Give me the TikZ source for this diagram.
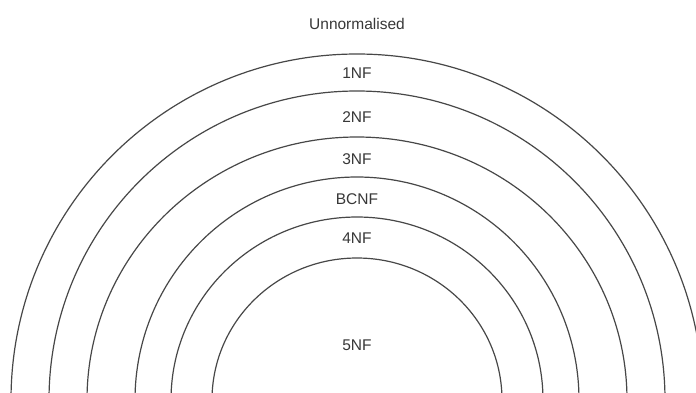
\documentclass[tikz,border=0pt]{standalone}
\usepackage{fontspec}
\setmainfont{Liberation Sans}
\begin{document}
\begin{tikzpicture}[x=1pt,y=-1pt,
  ring/.style={draw=black!72,line width=1.2pt},
  lbl/.style={inner sep=0pt,text=black!78,font=\fontsize{15.5}{17}\selectfont}]
\useasboundingbox (0,0) rectangle (696,392);
\clip (0,0) rectangle (696,392);
\fill[white] (0,0) rectangle (696,392);
\coordinate (c) at (357,400);
\foreach \rx/\ry in {346/346,308/309,270/263,222/223,186/183,145/142}{
  \draw[ring] ([xshift=\rx pt]c) arc[start angle=0,end angle=-180,x radius=\rx,y radius=\ry];
}
\node[lbl] (un) at (357,24) {Unnormalised};
\node[lbl] (n1) at (357,73) {1NF};
\node[lbl] (n2) at (357,117) {2NF};
\node[lbl] (n3) at (357,159) {3NF};
\node[lbl] (bc) at (357,199) {BCNF};
\node[lbl] (n4) at (357,238) {4NF};
\node[lbl] (n5) at (357,345) {5NF};
\end{tikzpicture}
\end{document}
